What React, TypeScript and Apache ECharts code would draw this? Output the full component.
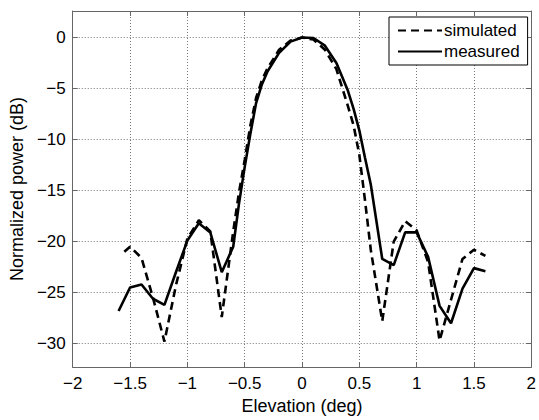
import React, { useEffect, useRef } from "react";
import * as echarts from "echarts";

const simX = [-1.55, -1.5, -1.4, -1.3, -1.2, -1.1, -1.0, -0.9, -0.8, -0.7, -0.6, -0.55, -0.5, -0.45, -0.4, -0.35, -0.3, -0.2, -0.1, 0, 0.1, 0.2, 0.3, 0.35, 0.4, 0.45, 0.5, 0.55, 0.6, 0.7, 0.8, 0.9, 1.0, 1.1, 1.2, 1.3, 1.4, 1.5, 1.6];
const simY = [-21.0, -20.5, -21.6, -25.5, -29.8, -24.3, -19.7, -17.9, -19.0, -27.4, -19.0, -15.2, -12.0, -8.6, -5.9, -4.2, -3.0, -1.2, -0.3, 0, -0.2, -1.2, -3.1, -4.9, -6.7, -8.6, -11.5, -16.0, -20.8, -27.8, -20.0, -18.0, -18.9, -22.0, -29.7, -25.7, -21.7, -20.8, -21.4];

const measX = [-1.6, -1.5, -1.4, -1.3, -1.2, -1.1, -1.0, -0.9, -0.8, -0.7, -0.6, -0.55, -0.5, -0.45, -0.4, -0.35, -0.3, -0.2, -0.1, 0, 0.1, 0.2, 0.3, 0.4, 0.45, 0.5, 0.55, 0.6, 0.7, 0.8, 0.9, 1.0, 1.1, 1.2, 1.3, 1.4, 1.5, 1.6];
const measY = [-26.8, -24.5, -24.2, -25.6, -26.2, -23.0, -19.9, -18.2, -19.1, -23.0, -20.5, -16.3, -12.7, -9.4, -6.4, -4.6, -3.3, -1.5, -0.4, 0, -0.05, -0.8, -2.5, -5.2, -7.0, -9.1, -11.8, -14.4, -21.7, -22.3, -19.1, -19.1, -21.5, -26.3, -28.0, -24.6, -22.6, -22.9];

const seriesNames = ["simulated", "measured"];
const xTitle = "Elevation (deg)";
const yTitle = "Normalized power (dB)";

const FONT = "Liberation Sans, Arial, sans-serif";
const AXIS_COLOR = "#666";
const GRID_COLOR = "#777";

const fmt = (v: number) => String(Math.round(v * 100) / 100).replace("-", "\u2212");

export default function App() {
  const ref = useRef<HTMLDivElement>(null);
  useEffect(() => {
    if (!ref.current) return;
    const chart = echarts.init(ref.current, undefined, { renderer: "svg" });
    const simData = simX.map((x, i) => [x, simY[i]]);
    const measData = measX.map((x, i) => [x, measY[i]]);
    const tickCommon = { show: true, inside: true, length: 5, lineStyle: { color: AXIS_COLOR, width: 1 } };
    chart.setOption({
      animation: false,
      backgroundColor: "#fff",
      textStyle: { fontFamily: FONT },
      grid: { left: 70, right: 7, top: 11, bottom: 46, containLabel: false },
      legend: {
        data: seriesNames,
        orient: "vertical",
        left: 389,
        top: 17,
        padding: [5, 8, 5, 8],
        itemGap: 4,
        itemWidth: 44,
        itemHeight: 14,
        backgroundColor: "#fff",
        borderColor: "#000",
        borderWidth: 1,
        borderRadius: 0,
        itemStyle: { opacity: 0 },
        textStyle: { fontFamily: FONT, fontSize: 17, color: "#000", padding: [0, 0, 0, -3] },
      },
      xAxis: [
        {
          type: "value",
          min: -2,
          max: 2,
          interval: 0.5,
          position: "bottom",
          name: xTitle,
          nameLocation: "middle",
          nameGap: 26,
          nameTextStyle: { fontFamily: FONT, fontSize: 18, color: "#000" },
          axisLine: { show: true, onZero: false, lineStyle: { color: AXIS_COLOR, width: 1 } },
          axisTick: tickCommon,
          axisLabel: { fontFamily: FONT, fontSize: 17, color: "#000", margin: 8, formatter: fmt },
          splitLine: { show: true, lineStyle: { color: GRID_COLOR, type: [1, 2], width: 1 } },
        },
        {
          type: "value",
          min: -2,
          max: 2,
          interval: 0.5,
          position: "top",
          axisLine: { show: true, onZero: false, lineStyle: { color: AXIS_COLOR, width: 1 } },
          axisTick: tickCommon,
          axisLabel: { show: false },
          splitLine: { show: false },
        },
      ],
      yAxis: [
        {
          type: "value",
          min: -32.3,
          max: 2.6,
          splitNumber: 7,
          position: "left",
          name: yTitle,
          nameLocation: "middle",
          nameGap: 43,
          nameTextStyle: { fontFamily: FONT, fontSize: 18, color: "#000" },
          axisLine: { show: true, onZero: false, lineStyle: { color: AXIS_COLOR, width: 1 } },
          axisTick: tickCommon,
          axisLabel: {
            fontFamily: FONT,
            fontSize: 17,
            color: "#000",
            margin: 7,
            formatter: (v: number) => (Math.abs(v / 5 - Math.round(v / 5)) < 1e-6 ? fmt(v) : ""),
          },
          splitLine: { show: true, lineStyle: { color: GRID_COLOR, type: [1, 2], width: 1 } },
        },
        {
          type: "value",
          min: -32.3,
          max: 2.6,
          splitNumber: 7,
          position: "right",
          axisLine: { show: true, onZero: false, lineStyle: { color: AXIS_COLOR, width: 1 } },
          axisTick: tickCommon,
          axisLabel: { show: false },
          splitLine: { show: false },
        },
      ],
      series: [
        {
          name: seriesNames[0],
          type: "line",
          data: simData,
          symbol: "none",
          xAxisIndex: 0,
          yAxisIndex: 0,
          lineStyle: { color: "#000", width: 2.6, type: [8, 5] },
          itemStyle: { color: "#000" },
        },
        {
          name: seriesNames[1],
          type: "line",
          data: measData,
          symbol: "none",
          xAxisIndex: 0,
          yAxisIndex: 0,
          lineStyle: { color: "#000", width: 2.6, type: "solid" },
          itemStyle: { color: "#000" },
        },
      ],
    });
    return () => chart.dispose();
  }, []);
  return <div ref={ref} style={{ position: "fixed", left: 0, top: 0, width: 539, height: 420 }} />;
}
